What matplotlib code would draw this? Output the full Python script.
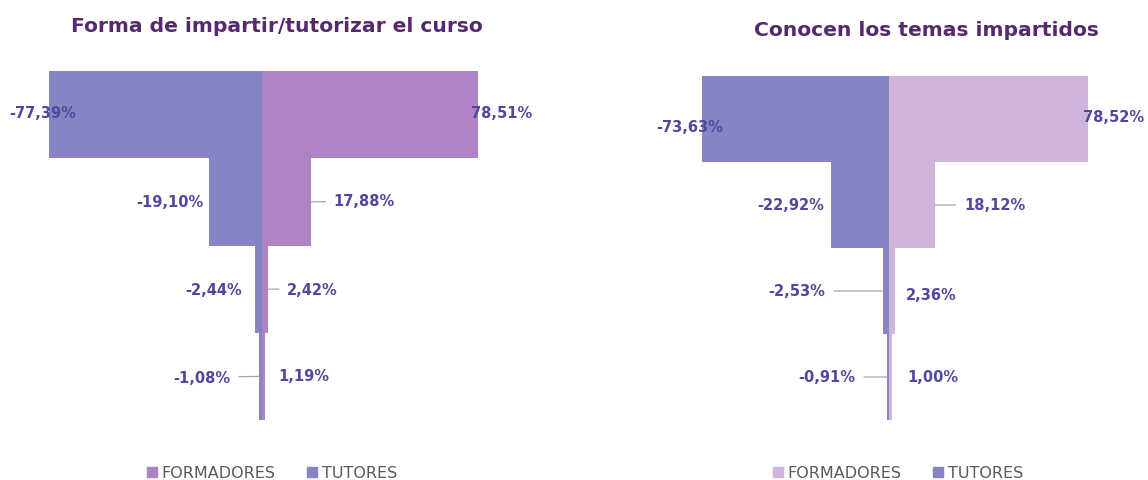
import matplotlib.pyplot as plt
from matplotlib.patches import Patch

plt.rcParams['font.family'] = ['DejaVu Sans']

# data
rows = [0, 1, 2, 3]
forma_formadores = [78.51, 17.88, 2.42, 1.19]
forma_tutores = [-77.39, -19.10, -2.44, -1.08]
temas_formadores = [78.52, 18.12, 2.36, 1.00]
temas_tutores = [-73.63, -22.92, -2.53, -0.91]

titles = ['Forma de impartir/tutorizar el curso', 'Conocen los temas impartidos']

c_tut = '#8784C5'
c_form_left = '#AD83C4'
c_form_right = '#CFB5DB'
c_label = '#4F47A0'
c_title = '#55286F'
c_leader = '#A6A6A6'

W, H = 1148, 481
fig = plt.figure(figsize=(W / 100, H / 100), dpi=100)


def fmt(v):
    return ('%.2f' % v).replace('.', ',') + '%'


def px_axes(x0, x1, y0, y1):
    return fig.add_axes([x0 / W, (H - y1) / H, (x1 - x0) / W, (y1 - y0) / H])


# label offsets in pixels from bar end: (dx, dy, ha, leader)
left_off_f = [(24, 2, 'center', False), (23, 1, 'left', True), (19, 0, 'left', True), (13, 1, 'left', False)]
left_off_t = [(-6, 2, 'center', False), (-6, 0, 'right', False), (-13, 0, 'right', False), (-28, -1, 'right', True)]
right_off_f = [(25, 2, 'center', False), (29, 0, 'left', True), (11, -4, 'left', False), (16, 0, 'left', False)]
right_off_t = [(-12, -8, 'center', False), (-7, 0, 'right', False), (-57, 0, 'right', True), (-31, 0, 'right', True)]

panels = [
    dict(x=(0, 574), y=(72, 421), center=261.6, scale=2.75,
         form=forma_formadores, tut=forma_tutores, cf=c_form_left,
         off_f=left_off_f, off_t=left_off_t, title_x=277, title_y=27, leg_x=272),
    dict(x=(574, 1148), y=(77, 421), center=889, scale=2.54,
         form=temas_formadores, tut=temas_tutores, cf=c_form_right,
         off_f=right_off_f, off_t=right_off_t, title_x=926, title_y=30, leg_x=898),
]

for i, p in enumerate(panels):
    ax = px_axes(p['x'][0], p['x'][1], p['y'][0], p['y'][1])
    ax.set_xlim(-(p['center'] - p['x'][0]) / p['scale'], (p['x'][1] - p['center']) / p['scale'])
    ax.set_ylim(3.5, -0.5)
    ax.barh(rows, p['form'], height=1.0, color=p['cf'], linewidth=0)
    ax.barh(rows, p['tut'], height=1.0, color=c_tut, linewidth=0)
    ax.axis('off')

    for vals, offs in ((p['form'], p['off_f']), (p['tut'], p['off_t'])):
        for r, v, (dx, dy, ha, leader) in zip(rows, vals, offs):
            kw = {}
            if leader:
                kw['arrowprops'] = dict(arrowstyle='-', color=c_leader, lw=0.9,
                                        shrinkA=4, shrinkB=0)
            ax.annotate(fmt(v), xy=(v, r), xytext=(dx, dy), textcoords='offset pixels',
                        ha=ha, va='center', fontsize=10.5, fontweight='bold',
                        color=c_label, annotation_clip=False, **kw)

    fig.text(p['title_x'] / W, 1 - p['title_y'] / H, titles[i], ha='center', va='center',
             fontsize=14.6, fontweight='bold', color=c_title)

    handles = [Patch(color=p['cf'], label='FORMADORES'), Patch(color=c_tut, label='TUTORES')]
    fig.legend(handles=handles, loc='center', bbox_to_anchor=(p['leg_x'] / W, 1 - 474 / H),
               ncol=2, frameon=False, fontsize=11.5, handlelength=0.6, handleheight=0.6,
               handletextpad=0.3, columnspacing=2.0, labelcolor='#595959')

fig.savefig('out.png', dpi=100)
